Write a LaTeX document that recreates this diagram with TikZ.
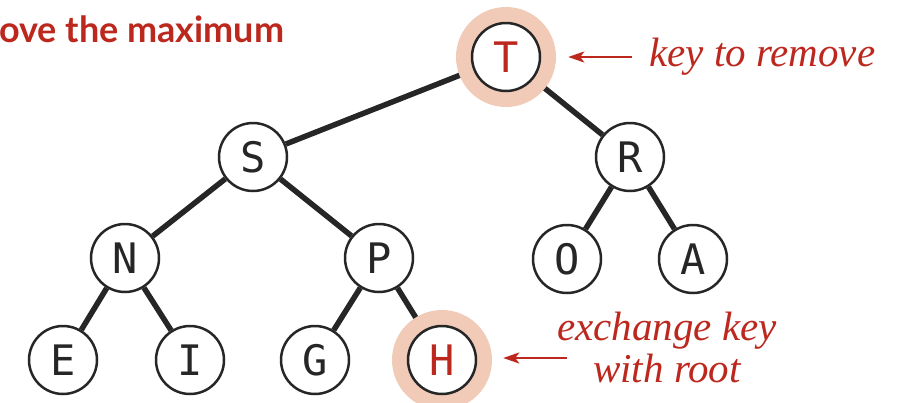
\documentclass[tikz,border=0pt]{standalone}
\usepackage{fontspec}
\usetikzlibrary{arrows.meta,backgrounds}
\newfontfamily\keyfont{DejaVu Sans Mono}
\newfontfamily\titlefont{Lato}
\newfontfamily\notefont{Liberation Serif}
\definecolor{bookred}{RGB}{188,40,30}
\definecolor{halocolor}{RGB}{241,203,184}
\tikzset{
  key/.style={circle, draw=black!85, line width=2.5pt, fill=white, minimum size=68pt,
    inner sep=0pt, text=black!85, font=\keyfont\fontsize{42}{42}\selectfont},
  link/.style={line width=5.5pt, black!85},
  glow/.style={fill=halocolor},
  note/.style={bookred, inner sep=0pt, font=\notefont\itshape\fontsize{41}{42}\selectfont},
  pointer/.style={bookred, line width=2.5pt, -{Stealth[length=16pt,width=11pt,inset=4pt]}}
}
\begin{document}
\begin{tikzpicture}[x=1pt,y=-1pt]
  \useasboundingbox (0,0) rectangle (903,402);
  % title, cut at the left edge
  \node[bookred, anchor=base west, inner sep=0pt, font=\titlefont\bfseries\fontsize{36}{36}\selectfont]
    (title) at (-1,42) {ove the maximum};

  % the heap
  \node[key, text=bookred] (T) at (506,57) {T};
  \node[key] (S) at (253,157) {S};
  \node[key] (R) at (630,157) {R};
  \node[key] (N) at (125,258) {N};
  \node[key] (P) at (379,258) {P};
  \node[key] (O) at (567,259) {O};
  \node[key] (A) at (693,259) {A};
  \node[key] (E) at (63,360) {E};
  \node[key] (I) at (190,360) {I};
  \node[key] (G) at (315,360) {G};
  \node[key, text=bookred] (H) at (442,360) {H};

  \begin{scope}[on background layer]
    % links
    \draw[link] (T) -- (S);
    \draw[link] (T) -- (R);
    \draw[link] (S) -- (N);
    \draw[link] (S) -- (P);
    \draw[link] (R) -- (O);
    \draw[link] (R) -- (A);
    \draw[link] (N) -- (E);
    \draw[link] (N) -- (I);
    \draw[link] (P) -- (G);
    \draw[link] (P) -- (H);
    % highlighted keys
    \fill[glow] (T) circle[radius=50pt];
    \fill[glow] (H) circle[radius=50pt];
  \end{scope}

  % notes
  \node[note, anchor=base west] (remove) at (649,66) {key to remove};
  \coordinate (removetail) at (632,57);
  \draw[pointer, shorten >=27pt] (removetail) -- (T.east);

  \node[note, anchor=base] (exchange) at (667,340) {exchange key};
  \node[note, anchor=base] (root) at (667,382) {with root};
  \coordinate (exchangetail) at (567,358);
  \draw[pointer, shorten >=26pt] (exchangetail) -- (H.east |- exchangetail);
\end{tikzpicture}
\end{document}
